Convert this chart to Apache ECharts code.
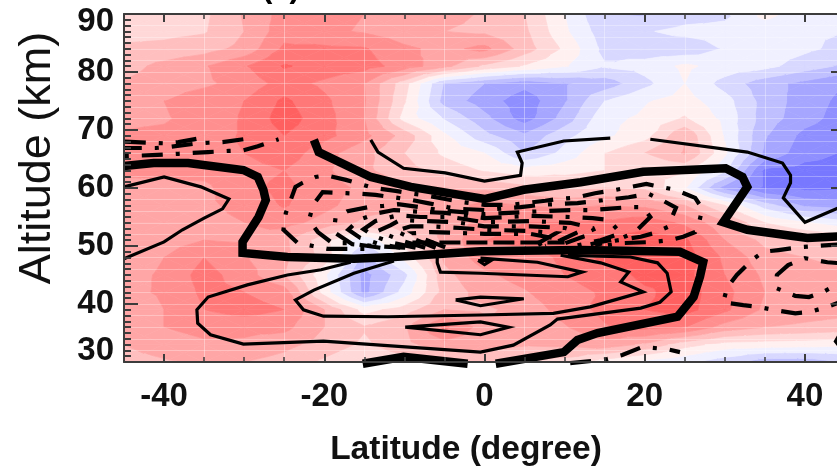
<!DOCTYPE html>
<html><head><meta charset="utf-8">
<style>html,body{margin:0;padding:0;background:#fff}#c{width:837px;height:466px}</style>
<script src="https://cdn.jsdelivr.net/npm/echarts@6/dist/echarts.min.js"></script></head>
<body><div id="c"></div><script>
// Field values on a latitude / altitude lattice
const lats=[-45,-40,-35,-30,-25,-20,-15,-10,-5,0,5,10,15,20,25,30,35,40,45];
const alts=[90,87,84,81,78,75,72,69,66,63,60,57,54,51,48,45,42,39,36,33,30];
const row90=[1.5,1.6,1.8,3.1,4.4,4.3,4.0,3.8,3.3,2.9,2.0,0.0,-2.0,-2.1,-1.5,-1.2,0.3,-0.5,-0.7];
const row87=[1.6,1.7,1.9,3.0,4.6,4.2,3.9,3.4,3.0,2.8,2.2,0.2,-1.6,-1.1,-0.7,-0.7,-0.6,-0.9,-1.0];
const row84=[2.2,2.3,2.6,3.3,5.2,5.2,5.1,4.2,3.7,4.3,2.5,0.8,-1.3,-1.6,-1.7,-0.9,-0.4,-0.8,-1.3];
const row81=[2.6,3.3,3.9,4.9,6.1,5.6,5.4,4.6,3.3,1.8,0.9,0.1,-0.9,-0.6,0.2,-0.4,-0.7,-1.5,-2.2];
const row78=[3.1,3.5,3.8,4.4,5.4,4.8,4.0,1.4,-2.1,-3.0,-3.7,-3.1,-2.6,-1.3,0.0,-1.4,-2.6,-3.3,-4.0];
const row75=[3.7,4.0,4.6,5.0,6.2,5.2,4.1,1.1,-2.4,-3.5,-4.6,-3.1,-1.0,-0.1,0.4,-0.6,-2.4,-3.5,-4.3];
const row72=[3.8,3.9,4.4,5.1,6.5,5.4,4.0,0.6,-1.1,-2.7,-4.5,-2.6,-0.3,0.2,1.1,-0.3,-2.5,-3.6,-4.5];
const row69=[4.1,4.2,4.6,5.1,6.0,5.3,4.3,2.6,0.2,-1.7,-2.8,-1.3,-0.2,0.6,2.9,-0.1,-2.9,-4.3,-4.8];
const row66=[4.4,4.5,4.8,5.0,5.6,4.4,3.3,2.0,0.8,0.0,-2.0,-0.7,1.0,2.0,3.1,0.2,-3.2,-4.6,-5.1];
const row63=[4.3,4.3,4.3,4.6,5.0,4.2,3.2,2.4,1.6,0.9,0.4,0.7,1.0,1.0,1.1,-0.8,-5.2,-5.4,-5.4];
const row60=[3.5,3.7,3.8,4.7,5.3,4.4,3.8,3.3,3.0,2.8,2.3,1.8,2.0,1.8,0.1,-3.4,-5.2,-5.3,-5.2];
const row57=[3.4,3.5,3.8,4.3,5.1,4.3,3.4,3.0,3.5,4.3,4.0,3.8,4.0,3.8,3.0,1.0,-1.5,-3.2,-3.6];
const row54=[3.4,3.5,3.7,4.0,4.4,3.6,2.8,2.6,3.2,4.5,5.0,5.0,5.2,5.6,4.8,3.2,1.0,0.1,-0.6];
const row51=[3.2,3.5,4.0,3.9,3.2,1.4,-0.8,1.5,3.2,5.0,5.3,5.5,6.2,6.5,6.2,4.0,2.7,2.2,1.8];
const row48=[3.2,4.0,5.0,4.1,3.3,1.6,-2.4,0.3,3.2,4.5,4.5,5.2,6.3,6.6,6.6,4.8,3.4,3.0,2.8];
const row45=[3.5,4.2,5.4,4.5,3.0,0.2,-3.4,-1.3,2.7,3.8,4.4,5.0,5.4,6.3,6.3,5.0,3.8,3.2,3.2];
const row42=[3.6,4.2,5.2,5.0,4.5,0.6,-3.3,-0.6,2.4,3.4,3.9,4.7,5.1,5.8,6.5,5.3,4.0,3.6,3.4];
const row39=[2.9,4.0,5.0,5.4,5.0,3.0,0.6,1.5,3.0,2.8,3.4,4.4,5.3,6.0,6.4,5.2,3.8,3.5,3.3];
const row36=[3.5,4.0,4.4,4.3,4.3,3.0,2.1,2.9,5.2,3.5,3.2,3.9,4.9,5.3,5.0,3.6,3.0,2.8,2.6];
const row33=[3.0,3.4,3.8,3.8,3.3,2.6,1.8,2.7,3.6,3.4,3.1,3.2,3.6,2.8,1.4,0.6,0.5,0.4,0.2];
const row30=[2.7,2.9,3.1,3.0,2.6,1.8,1.0,1.5,2.0,2.2,2.0,1.6,0.5,-0.3,-0.8,-1.6,-2.6,-2.6,-2.0];
const field=[row90,row87,row84,row81,row78,row75,row72,row69,row66,row63,row60,row57,row54,row51,row48,row45,row42,row39,row36,row33,row30];

const bandLow=[-6,-5,-4,-3,-2,-1,0,1,2,3,4,5,6];
const bandColors=['#7878ff','#8f8fff','#a6a6ff','#bfbfff','#d8d8ff','#f0f0ff','#fff0f0','#ffd8d8','#ffbfbf','#ffa6a6','#ff8f8f','#ff7878','#ff6060'];

// Contour lines, [latitude, altitude]
const zeroA=[[-45,63.8],[-41.3,64.3],[-37,64.3],[-30.1,63.1],[-28.3,61.9],[-27.6,59.7],[-27.3,57.9],[-28.2,55],[-30.2,50.7],[-30.2,48.8],[-24.6,48.1],[-16.3,47.8],[-11.3,48.1],[-0.5,49.1],[12,49.3],[24.4,49],[27.3,47.2],[26.9,44.7],[26.1,41.2],[24.1,37.8],[14.1,35],[11.6,33.8],[9.9,31.7],[1.4,29.7]];
const zeroB=[[-15.2,29.7],[-10.1,30.9],[-2.1,29.7]];
const zeroC=[[-21.3,68.3],[-20.7,66.2],[-14.2,61.9],[-9.2,60.2],[0,58.1],[4.9,59.7],[12,61],[19.8,62.8],[30.1,63.4],[32.2,61.9],[32.8,60.2],[29.8,54.1],[32.8,52.8],[40.3,51.4],[44.6,51.7]];
const zeroD=[[44.8,35],[44.2,33.6],[44.8,32.5]];
const posA=[[-45,47.8],[-40,50.7],[-37.7,52.8],[-35,54.8],[-32.7,56.4],[-31.9,58.1],[-35.4,60.2],[-40,61.9],[-45,60.2]];
const posB=[[-14.2,68.3],[-13.3,66.2],[-10.1,63.4],[-4.9,62.6],[0,61.2],[4.5,62.2],[4.7,64.3],[4.1,66.2],[9.9,68.1],[15.7,68.6]];
const posC=[[20.7,68.4],[32.8,66.2],[37.2,64.3],[38.2,62.2],[38.2,60.9],[37.3,58.3],[40,54.1],[44.6,56.8]];
const posD=[[-16.7,47.2],[-20.4,45.9],[-24.6,45],[-29.6,43.3],[-34.5,41.2],[-35.9,39],[-35.8,36.7],[-34.2,34.7],[-30.1,33.1],[-20.1,33.6],[-13,32.9],[-0.5,31.7],[3.6,32.9],[8.2,36.4],[9.1,37.4],[19.5,39.3],[21.9,40.3],[23.3,42.1],[22.8,45.3],[21.6,47.1],[18.2,48.1],[10.4,48.4]];
const posE=[[-11.3,47.4],[-16.3,45.3],[-21.3,42.4],[-23.6,40.7],[-22.6,39],[-20.1,37.9],[-12.1,37.8],[-0.5,38.1],[8.6,38.4],[13.2,39.5],[19.8,42.1],[17,43.8],[18,45.5],[14.5,47.1],[9.5,48.4]];
const posF=[[-5.9,48.3],[-5.9,47.1],[-5.5,45.5],[-0.5,45.3],[10.4,44.7],[12.2,45.5],[6.6,47.2],[-0.5,47.9]];
const posG=[[-3.6,40.7],[-0.5,41.2],[4.9,40.9],[-0.5,39.7],[-3.6,40.7]];
const posH=[[-9.9,36],[-0.5,36.9],[3,36],[-0.5,34.7],[-9.9,36]];
const posI=[[-0.8,47.5],[0.8,47.5],[0,46.8],[-0.8,47.5]];
const negTop1=[[-44.9,68],[-41.9,67.8],[-39.8,67.7],[-38.2,67.9],[-35.5,68.6]];
const negTop2=[[-44.9,66.9],[-41,66.9],[-39.2,67.1],[-36.4,67.6],[-34.5,67.8],[-32.7,67.9],[-30.1,68.4]];
const negTop3=[[-44.9,65.5],[-40.8,65.7],[-38.2,65.9],[-34.5,66.2],[-31.9,66.4],[-30.1,66.5],[-28.3,67.2],[-25.7,68.4]];
const negL1=[[-15,49.5],[-19.6,49.5],[-21.4,50],[-23.3,50.5],[-25.1,52.8],[-24.8,55.7],[-24.2,57.9],[-23.6,60.2],[-22.7,60.9],[-21.1,61.9],[-19.8,62.2],[-17.3,61.4],[-15.6,60.7],[-13.8,60],[-11.1,59.5],[-9.4,59.1],[-7.6,58.8],[-4.9,58.1],[-3,57.6],[0,57.1],[3.2,57.1],[5.1,57.4],[7.6,57.8],[9.1,58.1],[11.3,58.3],[13.8,59.1],[15.7,59.5],[17.6,60],[20.2,60.7],[21.9,60.2],[23.8,59.7],[26.3,58.3],[27.2,56.4],[26.7,53.6],[26.3,52.4],[24.8,51.6],[23.1,51],[21.1,50.7],[17.2,50.5],[14.5,50]];
const negL2=[[-13,49.7],[-17,50.5],[-19,50.5],[-20.8,52.4],[-21.9,54.5],[-21.4,57.1],[-20.2,59.3],[-17.3,59.1],[-15.5,59],[-13.6,58.8],[-10.8,58.3],[-9,57.9],[-7.1,57.4],[-4.6,56.7],[-3,56.4],[0,56.2],[4.5,56.7],[7,57.1],[11.6,57.4],[14.2,57.8],[16.1,58.1],[18,58.4],[20.5,59],[22.3,57.8],[23.9,56.6],[22.9,53.3],[21.1,52.2],[19.5,51.6],[16.3,50.9],[13.8,50.2]];
const negL3=[[-9.9,49.7],[-13.8,50],[-16.5,50.3],[-18.8,52.4],[-18.6,54.8],[-17.1,56],[-14.5,56.7],[-12.7,56.9],[-10.8,57.2],[-7.6,56.6],[-5.7,56.2],[0,55.5],[5.7,55.9],[10.7,56.2],[13.5,56.2],[15.3,56.4],[18,56.7],[19.8,56.7],[20.7,55],[18.8,52.4],[17.2,51.4],[14.5,50.7],[12.3,50]];
const negL4=[[-10.5,49.7],[-13,50.3],[-15.5,51.4],[-17,52.8],[-15.7,54.5],[-13.2,55.7],[-11.3,56.2],[-8,55.9],[-4.9,55.7],[0,54.8],[5.7,55.2],[10.7,55],[13.5,54.8],[15.5,54.5],[17,52.2],[14.5,51],[11.3,50]];
const negL5=[[-8.6,49.7],[-11.3,50.5],[-13.8,51.7],[-15.1,52.9],[-13.6,54.3],[-10.8,55.3],[-8,55],[-4.2,55],[0,54.1],[5.7,54.3],[10.7,54],[13.5,53.1],[13.8,52.2],[12.3,51.6],[10.1,50.5]];
const negL6=[[-7.4,49.7],[-10.5,51],[-13.3,52.6],[-11.7,53.6],[-10.5,54.5],[-7.4,54.3],[-3.6,54.1],[0,53.4],[5.7,53.4],[10.1,53.1],[11.7,52.4],[9.5,51],[7.6,50]];
const negL7=[[-6.1,49.7],[-9.2,51.4],[-11.1,52.6],[-9.2,53.4],[-6.7,53.4],[-3,53.1],[0,52.8],[5.7,52.6],[8.9,52.2],[7,50.7],[5.1,49.7]];
const negL8=[[-4.9,49.8],[-8,51.4],[-8.9,52.2],[-6.7,52.4],[0,52.1],[5.7,52.1],[8.5,51.4],[6.4,50]];
const negL9=[[-9,50.6],[10,50.6]];
const negR1=[[44.6,50.3],[41.3,50],[39.4,49.8],[36.7,49.3],[34.8,49],[33.4,47.6],[31.5,45],[30.3,42.9],[29.8,40.3],[32.3,39.8],[34.2,39.5],[36,39],[38.8,38.4],[40.5,38.6],[42.3,39.3],[44.6,40.4]];
const negR2=[[44.6,47],[42.8,47.2],[40,47.9],[37.9,46.7],[36.5,45],[36.3,42.8],[38.8,41.4],[40.5,41.2],[42.3,42.1],[44.6,43.8]];
const negR3=[[10.7,29.8],[13.5,30.2],[15.3,30.5],[17.2,31.2],[19.7,32.6],[22.8,32.2],[24.4,31.7]];

const xTickLabels=[-40,-20,0,20,40];
const xMinorTicks=[-45,-40,-35,-30,-25,-20,-15,-10,-5,0,5,10,15,20,25,30,35,40,45];
const xSeams=[-35,-25,-15,-5,5,15,25,35];
const axisColor='#3c3c3c';
const labelFont={fontFamily:'Liberation Sans',fontWeight:'bold',fontSize:33,color:'#111'};

function clipBand(poly,lo,hi){
  const cut=(pts,keep,level)=>{const out=[];
    for(let i=0;i<pts.length;i++){const a=pts[i],b=pts[(i+1)%pts.length];const ka=keep(a[2]),kb=keep(b[2]);
      if(ka)out.push(a);
      if(ka!==kb){const t=(level-a[2])/(b[2]-a[2]);out.push([a[0]+t*(b[0]-a[0]),a[1]+t*(b[1]-a[1]),level]);}}
    return out;};
  let p=cut(poly,v=>v>=lo,lo); if(p.length<3)return null;
  p=cut(p,v=>v<=hi,hi); return p.length<3?null:p;
}
const cells=[];
for(let r=0;r<alts.length-1;r++)for(let c=0;c<lats.length-1;c++)
  cells.push([lats[c],alts[r],lats[c+1],alts[r+1],field[r][c],field[r][c+1],field[r+1][c],field[r+1][c+1]]);
function renderCell(params,api){
  const x0=api.value(0),y0=api.value(1),x1=api.value(2),y1=api.value(3);
  const a=api.coord([x0,y0]),b=api.coord([x1,y0]),d=api.coord([x0,y1]),e=api.coord([x1,y1]);
  const v=[api.value(4),api.value(5),api.value(6),api.value(7)];
  const C=[a,b,e,d].map((p,i)=>[p[0],p[1],[v[0],v[1],v[3],v[2]][i]]);
  const m=[(a[0]+e[0])/2,(a[1]+e[1])/2,(v[0]+v[1]+v[2]+v[3])/4];
  const children=[];
  for(let i=0;i<4;i++){
    const tri=[C[i],C[(i+1)%4],m];
    for(let k=0;k<bandLow.length;k++){
      const lo=k===0?-99:bandLow[k],hi=k===bandLow.length-1?99:bandLow[k]+1;
      const p=clipBand(tri,lo,hi);
      if(p)children.push({type:'polygon',shape:{points:p.map(q=>[q[0],q[1]])},style:{fill:bandColors[k],stroke:bandColors[k],lineWidth:0.7}});
    }
  }
  return {type:'group',children};
}
const contour=(data,width,dash,offset)=>({type:'line',data,xAxisIndex:0,yAxisIndex:0,symbol:'none',clip:false,z:5,silent:true,animation:false,
  lineStyle:{color:'#000',width,type:dash||'solid',dashOffset:offset||0,cap:'butt',join:'miter'}});
const dd=[21,13,4,13];
const thick=8.5,thin=3.2,dashed=4.2;
const series=[
 {type:'custom',renderItem:renderCell,data:cells,xAxisIndex:0,yAxisIndex:0,z:2,clip:true,silent:true,animation:false,
  encode:{x:[0,2],y:[1,3]}},
 contour(zeroA,thick),contour(zeroB,thick),contour(zeroC,thick),contour(zeroD,thick),
 contour(posA,thin),contour(posB,thin),contour(posC,thin),contour(posD,thin),contour(posE,thin),contour(posF,thin),contour(posG,thin),contour(posH,thin),contour(posI,thin),
 contour(negTop1,dashed,dd,0),contour(negTop2,dashed,dd,4),contour(negTop3,dashed,dd,34),
 contour(negL1,dashed,dd,34),contour(negL2,dashed,dd,0),contour(negL3,dashed,dd,0),contour(negL4,dashed,dd,10),contour(negL5,dashed,dd,0),contour(negL6,dashed,dd,0),contour(negL7,dashed,dd,0),contour(negL8,dashed,dd,0),contour(negL9,dashed,[21,6],0),
 contour(negR1,dashed,dd,0),contour(negR2,dashed,dd,0),contour(negR3,dashed,dd,0)
];
const ln={lineStyle:{color:axisColor,width:2}};
const xAxis=[
 {type:'value',min:-45,max:45,position:'bottom',z:6,axisLine:{show:true,onZero:false,...ln},splitLine:{show:false},
  axisTick:{show:true,inside:true,length:8,customValues:xTickLabels,lineStyle:{color:axisColor,width:2}},
  axisLabel:{show:true,customValues:xTickLabels,margin:18,hideOverlap:false,...labelFont}},
 {type:'value',min:-45,max:45,position:'bottom',z:6,axisLine:{show:false,onZero:false},splitLine:{show:false},axisLabel:{show:false},
  axisTick:{show:true,inside:true,length:5,customValues:xMinorTicks,lineStyle:{color:axisColor,width:1.5}}},
 {type:'value',min:-45,max:45,position:'top',z:6,axisLine:{show:true,onZero:false,...ln},splitLine:{show:false},axisLabel:{show:false},
  axisTick:{show:true,inside:true,length:8,customValues:xTickLabels,lineStyle:{color:axisColor,width:2}}},
 {type:'value',min:-45,max:45,position:'top',z:6,axisLine:{show:false,onZero:false},splitLine:{show:false},axisLabel:{show:false},
  axisTick:{show:true,inside:true,length:5,customValues:xMinorTicks,lineStyle:{color:axisColor,width:1.5}}},
 {type:'value',min:-45,max:45,z:3,axisLine:{show:false,onZero:false},axisLabel:{show:false},
  axisTick:{show:false,customValues:xSeams},splitLine:{show:true,lineStyle:{color:'rgba(255,255,255,0.35)',width:1}}}
];
const yTick={show:true,inside:true,length:14,lineStyle:{color:axisColor,width:2}};
const yMinor={show:true,splitNumber:10,length:7,lineStyle:{color:axisColor,width:2}};
const yAxis=[
 {type:'value',min:30,max:90,interval:10,position:'left',z:6,axisLine:{show:true,onZero:false,...ln},axisTick:yTick,minorTick:yMinor,splitLine:{show:false},
  axisLabel:{show:true,margin:10,showMinLabel:true,showMaxLabel:true,...labelFont,
   formatter:v=>v===30?'{low|30}':v===90?'{high|90}':String(v),
   rich:{low:{...labelFont,padding:[0,0,22,0]},high:{...labelFont,padding:[16,0,0,0]}}}},
 {type:'value',min:30,max:90,interval:10,position:'right',z:6,axisLine:{show:true,onZero:false,...ln},axisTick:yTick,minorTick:yMinor,splitLine:{show:false},axisLabel:{show:false}},
 {type:'value',min:30,max:90,interval:2,z:3,axisLine:{show:false,onZero:false},axisTick:{show:false},axisLabel:{show:false},
  splitLine:{show:true,lineStyle:{color:'rgba(255,255,255,0.3)',width:1}}}
];
const chart=echarts.init(document.getElementById('c'),null,{renderer:'canvas'});
chart.setOption({
 animation:false,backgroundColor:'#fff',
 grid:{left:124,top:14,width:721,height:348,containLabel:false,outerBoundsMode:'none'},
 xAxis,yAxis,series,
 graphic:[
  {type:'text',x:281,y:-12,z:10,style:{text:'(a)',font:'bold 31px "Liberation Sans"',fill:'#000',align:'center',verticalAlign:'middle'}},
  {type:'text',x:466,y:450,z:10,style:{text:'Latitude (degree)',font:'bold 33.5px "Liberation Sans"',fill:'#111',align:'center',verticalAlign:'middle'}},
  {type:'text',x:38,y:158,rotation:Math.PI/2,z:10,style:{text:'Altitude (km)',font:'45px "Liberation Sans"',fill:'#111',align:'center',verticalAlign:'middle'}}
 ]
});
</script></body></html>
